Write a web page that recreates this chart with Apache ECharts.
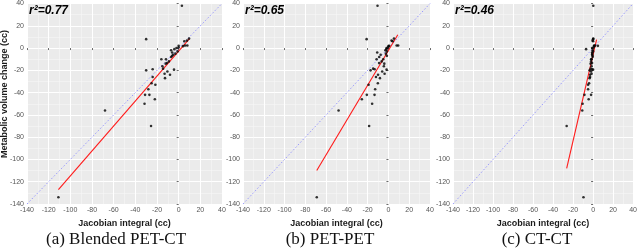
<!DOCTYPE html>
<html>
<head>
<meta charset="utf-8">
<script src="https://cdn.jsdelivr.net/npm/echarts@6/dist/echarts.min.js"></script>
<style>
html,body{margin:0;padding:0;background:#fff;}
#chart{width:640px;height:250px;}
</style>
</head>
<body>
<div id="chart"></div>
<script>
// Shared y values: metabolic volume change (cc)
const yVals = [38, 8, -134, -70, -56, -50, -46, -42, -42, -37, -33, -31.6, -27, -26, -21, -23, -20, -19, -19.4, -18.5, -16.4, -13.5, -10, -10, -8, -6, -4, -3, -2, -1, 0, 0.5, 1.7, 2, 2.3, 2.3, 6.1, 6.7, 8.5, -12, -5, -7, -14, -24];
// x values (Jacobian integral, cc) per panel
const xBlended = [3, -30, -111, -25.5, -68, -31.5, -22, -31, -27, -28, -21.5, -25, -12.6, -24, -10.4, -13, -30, -24, -4.3, -14.4, -15, -10.8, -16, -11.7, -7, -5, -6, -1, -7, -4, -2, 0, 4, 0, 6, 8, 5.2, 7.7, 9.6, -9, -3, -6, -12, -8];
const xPetPet  = [-10.5, -21, -69, -18.6, -48, -15.7, -25.6, -13.4, -20.8, -12.8, -19.1, -10.2, -8.2, -12, -6, -3.7, -17.2, -13.3, -1.8, -14.7, -4.4, -9, -5, -11.4, -8.9, -7.5, -10.8, -1.5, -3, -2, -1.8, -0.5, 0, 0.7, 7.9, 9.4, 4, 3, 5.3, -6.5, -2.5, -1.5, -4, -10];
const xCtCt    = [0.2, 0, -9.6, -26.4, -10.8, -10.5, -4.4, -2, -8.6, -5, -5, -4, -3.5, -3, -2, -1.5, -3.5, -1, 0, -2.5, -1.5, -1, -2, -1.5, -0.5, -1, -1, 0, -0.5, -7, -1, 0.5, 1, 4.8, 2, 1, 0, -0.5, 0.2, -2, -0.8, -0.5, -2.5, -3];
// regression line endpoints per panel
const fitBlended = [[-111, -127], [10, 8.5]];
const fitPetPet  = [[-69, -110], [9, 12]];
const fitCtCt    = [[-26.4, -108], [3.5, 7.6]];
const r2Labels = ['r\u00B2=0.77', 'r\u00B2=0.65', 'r\u00B2=0.46'];
const captions = ['(a) Blended PET-CT', '(b) PET-PET', '(c) CT-CT'];
const axisMin = -140, axisMax = 40, axisStep = 20;
const xTitle = 'Jacobian integral (cc)';
const yTitle = 'Metabolic volume change (cc)';

const panels = [
  {x: xBlended, fit: fitBlended, left: 27, width: 195, cap: 116},
  {x: xPetPet, fit: fitPetPet, left: 243, width: 187, cap: 330},
  {x: xCtCt, fit: fitCtCt, left: 453, width: 185, cap: 537}
];
const sans = 'Liberation Sans, Arial, sans-serif';

const grids = [], xAxes = [], yAxes = [], series = [], graphics = [];
panels.forEach((p, i) => {
  grids.push({left: p.left, top: 2, width: p.width, height: 202, show: true,
    backgroundColor: '#ebebeb', borderWidth: 0, containLabel: false});
  const common = {
    type: 'value', gridIndex: i, min: axisMin, max: axisMax, interval: axisStep,
    axisLine: {show: false},
    axisTick: {show: true, length: 2, lineStyle: {color: '#444', width: 0.8}},
    splitLine: {show: true, lineStyle: {color: '#ffffff', width: 1}},
    minorTick: {show: false, splitNumber: 2},
    minorSplitLine: {show: true, lineStyle: {color: '#f8f8f8', width: 0.5}},
  };
  xAxes.push(Object.assign({}, common, {
    name: xTitle, nameLocation: 'middle', nameGap: 15,
    nameTextStyle: {fontFamily: sans, fontWeight: 'bold', fontSize: 9, color: '#1a1a1a'},
    axisLabel: {fontFamily: sans, fontSize: 7, color: '#555', margin: 3,
      showMinLabel: true, showMaxLabel: true, hideOverlap: false}
  }));
  yAxes.push(Object.assign({}, common, {
    axisLabel: {fontFamily: sans, fontSize: 7, color: '#555', margin: 3,
      showMinLabel: true, showMaxLabel: true, hideOverlap: false}
  }));
  series.push({
    type: 'line', xAxisIndex: i, yAxisIndex: i, silent: true, symbol: 'none',
    data: [[axisMin, axisMin], [axisMax, axisMax]],
    lineStyle: {color: '#8f8fff', width: 0.9, type: [1.5, 2]}, z: 2
  });
  series.push({
    type: 'line', xAxisIndex: i, yAxisIndex: i, silent: true, symbol: 'none',
    data: p.fit, lineStyle: {color: '#ff1a1a', width: 1.1}, z: 3
  });
  series.push({
    type: 'scatter', xAxisIndex: i, yAxisIndex: i, silent: true,
    symbol: 'circle', symbolSize: 2.6,
    itemStyle: {color: '#000'},
    data: yVals.map((y, k) => [p.x[k], y]), z: 4
  });
  graphics.push({type: 'text', x: p.left + 2, y: 5, z: 100,
    style: {text: r2Labels[i], font: 'italic bold 12px ' + sans, fill: '#000',
      textAlign: 'left', textVerticalAlign: 'top'}});
  graphics.push({type: 'text', x: p.cap, y: 240, z: 100,
    style: {text: captions[i], font: '17px "Liberation Serif", "Times New Roman", serif', fill: '#111',
      textAlign: 'center', textVerticalAlign: 'middle'}});
});
graphics.push({type: 'text', x: 5, y: 94, rotation: Math.PI / 2, z: 100,
  style: {text: yTitle, font: 'bold 9px ' + sans, fill: '#1a1a1a',
    textAlign: 'center', textVerticalAlign: 'middle'}});

const chart = echarts.init(document.getElementById('chart'), null, {renderer: 'canvas'});
chart.setOption({
  animation: false,
  grid: grids, xAxis: xAxes, yAxis: yAxes, series: series, graphic: graphics
});
</script>
</body>
</html>
